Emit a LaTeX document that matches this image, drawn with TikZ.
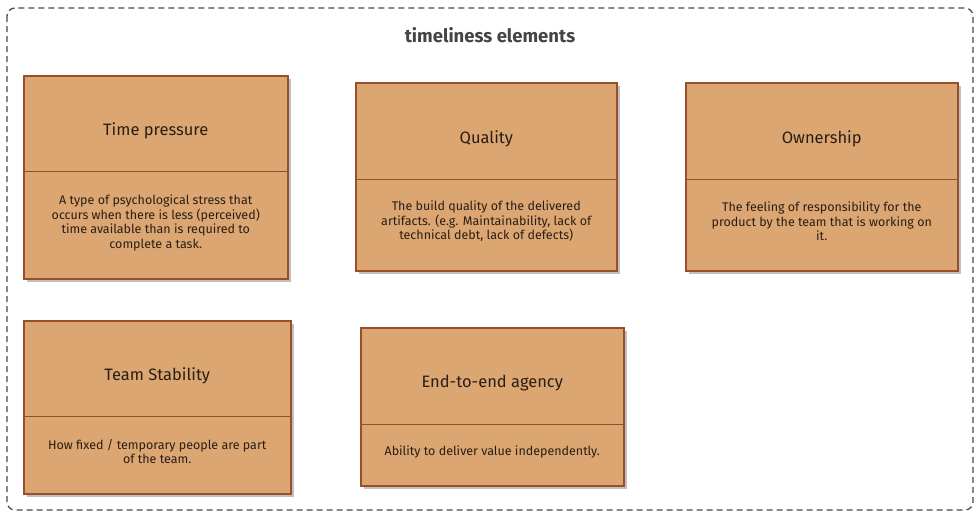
\documentclass[tikz,border=0pt]{standalone}
\usepackage{fontspec}
\setmainfont{Fira Sans}
\usetikzlibrary{shadows}
\definecolor{boxfill}{HTML}{DBA672}
\definecolor{boxline}{HTML}{9A4E2A}
\definecolor{txt}{HTML}{2A1E14}
\definecolor{frame}{HTML}{4A4A4A}
\definecolor{heading}{HTML}{444444}
\tikzset{
  card/.style={draw=boxline, fill=boxfill, line width=1.5pt, inner sep=0pt, anchor=north west,
    drop shadow={shadow xshift=3pt, shadow yshift=-3pt, fill=black, opacity=0.25}},
  divider/.style={draw=boxline, line width=1pt},
  ctitle/.style={text=txt, font=\fontsize{16.5}{19}\selectfont, inner sep=0pt},
  cdesc/.style={text=txt, font=\fontsize{12.5}{14.6}\selectfont, align=center, inner sep=0pt},
}
\begin{document}
\begin{tikzpicture}[x=1pt,y=-1pt]
\useasboundingbox (0,0) rectangle (978,514);
\draw[frame, dash pattern=on 6pt off 4pt, rounded corners=8pt, line width=1.3pt] (7,8) rectangle (973,510);
\node[text=heading, font=\fontsize{18.5}{21}\selectfont\bfseries] (head) at (490,35) {timeliness elements};

% Time pressure
\node[card, minimum width=264pt, minimum height=203pt] (tp) at (23,75) {};
\draw[divider] (tp.west |- 0,171) -- (tp.east |- 0,171);
\node[ctitle] (tpt) at (tp.north |- 0,130.5) {Time pressure};
\node[cdesc] (tpd) at (tp.north |- 0,223) {A type of psychological stress that\\occurs when there is less (perceived)\\time available than is required to\\complete a task.};

% Quality
\node[card, minimum width=261pt, minimum height=188pt] (q) at (355,82) {};
\draw[divider] (q.west |- 0,179) -- (q.east |- 0,179);
\node[ctitle] (qt) at (q.north |- 0,138.5) {Quality};
\node[cdesc] (qd) at (q.north |- 0,221.5) {The build quality of the delivered\\artifacts. (e.g. Maintainability, lack of\\technical debt, lack of defects)};

% Ownership
\node[card, minimum width=272pt, minimum height=188pt] (o) at (685,82) {};
\draw[divider] (o.west |- 0,179) -- (o.east |- 0,179);
\node[ctitle] (ot) at (o.north |- 0,138.5) {Ownership};
\node[cdesc] (od) at (o.north |- 0,221.5) {The feeling of responsibility for the\\product by the team that is working on\\it.};

% Team Stability
\node[card, minimum width=267pt, minimum height=173pt] (ts) at (23,320) {};
\draw[divider] (ts.west |- 0,416) -- (ts.east |- 0,416);
\node[ctitle] (tst) at (ts.north |- 0,375.5) {Team Stability};
\node[cdesc] (tsd) at (ts.north |- 0,451.5) {How fixed / temporary people are part\\of the team.};

% End-to-end agency
\node[card, minimum width=263pt, minimum height=158pt] (e) at (360,327) {};
\draw[divider] (e.west |- 0,424) -- (e.east |- 0,424);
\node[ctitle] (et) at (e.north |- 0,383.5) {End-to-end agency};
\node[cdesc] (ed) at (e.north |- 0,451.5) {Ability to deliver value independently.};
\end{tikzpicture}
\end{document}
